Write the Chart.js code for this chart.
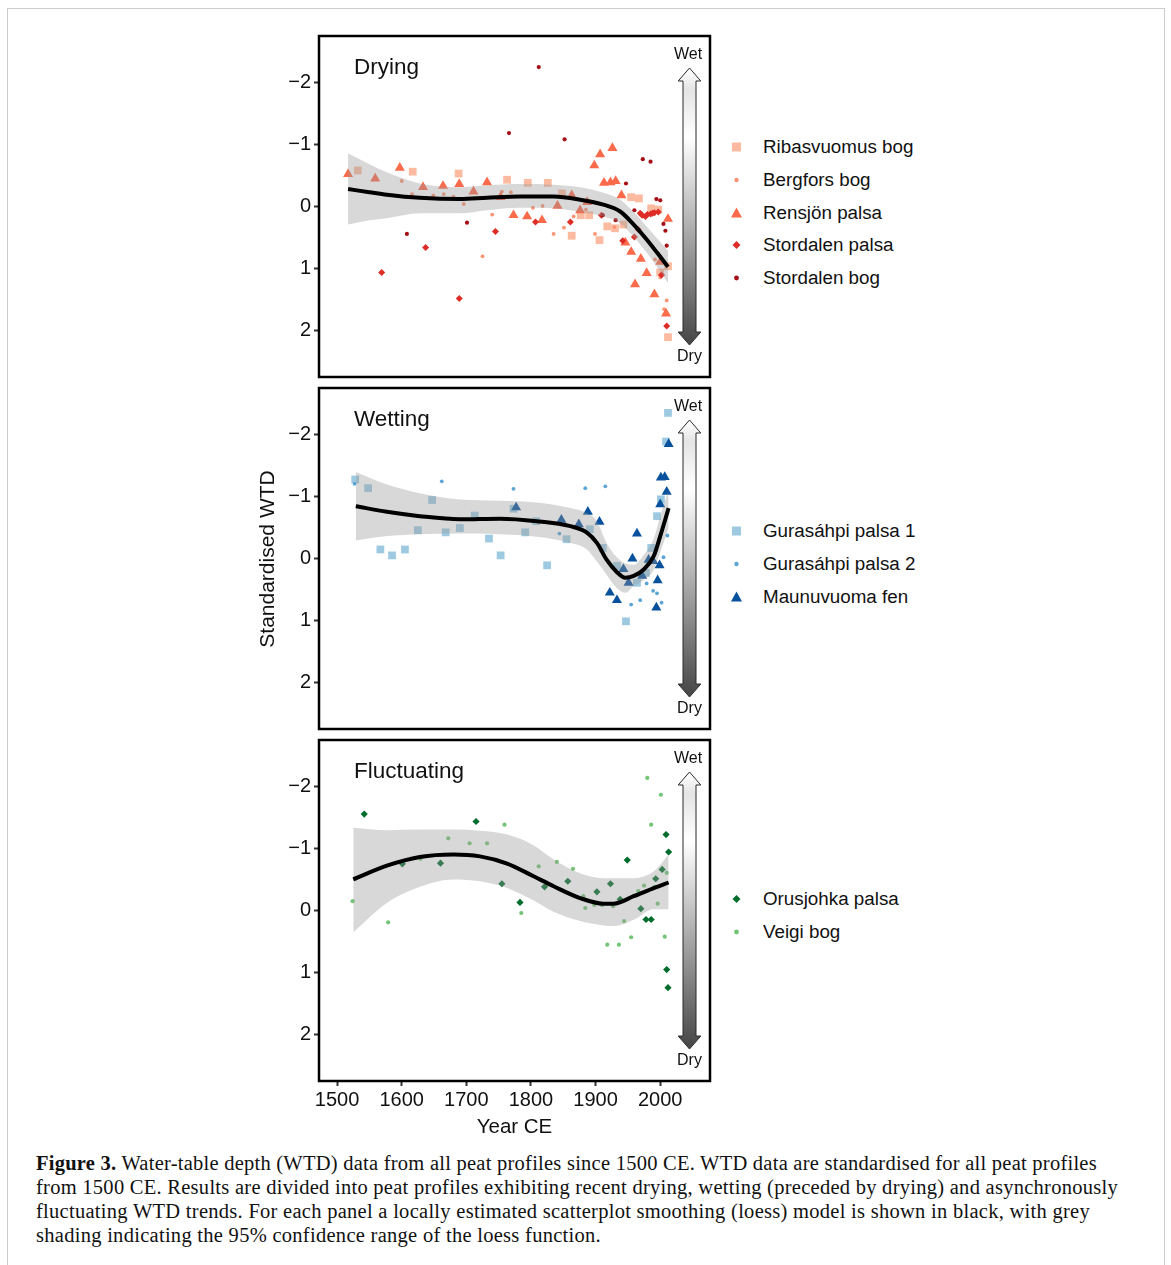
<!DOCTYPE html>
<html><head><meta charset="utf-8">
<script src="https://cdn.jsdelivr.net/npm/chart.js@4.4.0/dist/chart.umd.min.js"></script>
<style>
body{margin:0;background:#fff;width:1171px;height:1265px;position:relative;overflow:hidden;font-family:"Liberation Sans",Arial,sans-serif;}
.frame{position:absolute;left:7px;top:8px;width:1156px;height:1300px;border:1.5px solid #cccccc;}
canvas{position:absolute;}
.leg{position:absolute;font-size:18.8px;color:#111;height:22px;line-height:22px;white-space:nowrap;}
.leg svg{position:absolute;left:-36px;top:0;}
.ytitle{position:absolute;left:117px;top:546px;width:300px;height:26px;line-height:26px;text-align:center;font-size:21px;color:#111;transform:rotate(-90deg);}
.cap{position:absolute;left:36px;top:1151px;font-family:"Liberation Serif","Times New Roman",serif;font-size:20.5px;line-height:24px;color:#111;white-space:nowrap;}
.cap div{display:block;width:max-content;}
</style></head>
<body>
<div class="frame"></div>
<canvas id="c1" width="470" height="381" style="left:250px;top:16px"></canvas>
<canvas id="c2" width="470" height="381" style="left:250px;top:368px"></canvas>
<canvas id="c3" width="470" height="420" style="left:250px;top:720px"></canvas>
<div class="ytitle">Standardised WTD</div>
<div id="legends"></div>
<div class="cap" id="cap">
<div data-w="1061"><b>Figure 3.</b> Water-table depth (WTD) data from all peat profiles since 1500 CE. WTD data are standardised for all peat profiles</div>
<div data-w="1082">from 1500 CE. Results are divided into peat profiles exhibiting recent drying, wetting (preceded by drying) and asynchronously</div>
<div data-w="1054">fluctuating WTD trends. For each panel a locally estimated scatterplot smoothing (loess) model is shown in black, with grey</div>
<div data-w="565">shading indicating the 95% confidence range of the loess function.</div>
</div>
<script>
// ---------- tick labels ----------
const yearTicks = [1500,1600,1700,1800,1900,2000];
const wtdTicks = [-2,-1,0,1,2];

// ---------- Drying ----------
const ribasYear = [1532,1617,1688,1763,1795,1826,1848,1863,1877,1890,1906,1918,1930,1943,1955,1967,1986,1997,2000,2012,2012];
const ribasWTD  = [-0.58,-0.56,-0.53,-0.43,-0.38,-0.38,-0.21,0.47,0.14,0.14,0.54,0.32,0.35,0.29,-0.15,-0.13,0.03,0.05,1.06,0.96,2.1];
const bergYear = [1600,1616,1649,1665,1680,1696,1725,1740,1755,1769,1803,1818,1835,1851,1866,1885,1899,1929,1992,2000,2006,2010];
const bergWTD  = [-0.41,-0.2,-0.18,-0.2,-0.16,-0.04,0.8,0.13,-0.24,-0.23,0.02,-0.01,0.44,0.34,0.16,0.05,0.44,0.33,0.85,1.14,1.65,1.51];
const rensYear = [1517,1559,1597,1633,1664,1689,1711,1732,1753,1773,1794,1817,1841,1863,1876,1887,1898,1907,1913,1923,1926,1931,1940,1946,1955,1961,1970,1979,1991,2000,2009,2012];
const rensWTD  = [-0.52,-0.45,-0.62,-0.31,-0.33,-0.36,-0.24,-0.39,-0.15,0.14,0.16,0.22,-0.01,-0.18,0.06,-0.07,-0.66,-0.84,-0.38,-0.39,-0.94,-0.41,-0.18,0.58,0.73,1.25,0.84,1.07,1.41,0.89,1.72,0.2];
const sdpYear = [1569,1637,1689,1745,1807,1861,1909,1942,1960,1966,1969,1972,1977,1980,1985,1988,1991,1997,2002,2010];
const sdpWTD  = [1.06,0.66,1.48,0.40,0.25,0.25,0.14,0.55,0.49,0.37,0.11,0.14,0.16,0.13,0.12,0.11,0.10,0.09,1.10,1.92];
const sdbYear = [1608,1701,1766,1812,1852,1911,1931,1947,1960,1973,1985,1994,2000,2005,2008,2010];
const sdbWTD  = [0.44,0.26,-1.18,-2.24,-1.08,0.14,0.22,-0.37,0.06,-0.76,-0.72,-0.12,-0.10,0.28,0.39,0.63];
const dryLoessYear = [1517,1550,1577,1628,1690,1732,1783,1835,1876,1912,1938,1959,1979,1995,2012];
const dryLoess     = [-0.28,-0.23,-0.19,-0.14,-0.12,-0.14,-0.16,-0.16,-0.11,-0.03,0.08,0.29,0.53,0.74,0.97];
const dryUpper     = [-0.85,-0.68,-0.55,-0.37,-0.31,-0.34,-0.36,-0.35,-0.31,-0.22,-0.11,0.09,0.32,0.51,0.71];
const dryLower     = [0.29,0.22,0.19,0.11,0.11,0.06,0.02,0.03,0.09,0.16,0.27,0.49,0.74,0.97,1.23];

// ---------- Wetting ----------
const g1Year = [1528,1548,1567,1585,1605,1625,1647,1668,1690,1713,1735,1753,1773,1791,1808,1825,1855,1891,1911,1933,1947,1964,1978,1986,1995,2001,2009,2012];
const g1WTD  = [-1.27,-1.13,-0.145,-0.05,-0.145,-0.455,-0.94,-0.42,-0.49,-0.69,-0.32,-0.05,-0.80,-0.42,-0.60,0.11,-0.31,-0.47,-0.17,0.12,1.01,0.39,0.23,-0.17,-0.68,-0.95,-1.88,-2.34];
const g2Year = [1527,1662,1773,1844,1884,1915,1955,1969,1979,1989,1995,2002,2005,2011];
const g2WTD  = [-1.2,-1.24,-1.12,-0.40,-1.13,-1.16,0.74,0.67,0.40,0.52,0.56,0.71,-0.02,-0.37];
const mauYear = [1777,1847,1874,1888,1906,1922,1933,1943,1951,1957,1964,1972,1982,1989,1994,1996,1999,2000,2001,2007,2010,2013];
const mauWTD  = [-0.82,-0.62,-0.55,-0.75,-0.59,0.55,0.67,0.17,0.39,0.0,-0.40,0.28,0.02,0.04,0.79,0.35,0.11,-0.87,-1.30,-1.31,-1.07,-1.84];
const wetLoessYear = [1529,1577,1628,1690,1752,1809,1861,1886,1902,1917,1933,1946,1959,1974,1990,2000,2013];
const wetLoess     = [-0.84,-0.75,-0.68,-0.63,-0.64,-0.60,-0.52,-0.42,-0.25,0.02,0.22,0.31,0.28,0.18,-0.04,-0.36,-0.81];
const wetUpper     = [-1.39,-1.19,-1.05,-0.95,-0.93,-0.90,-0.81,-0.73,-0.60,-0.25,-0.02,0.08,0.10,-0.05,-0.32,-0.68,-1.11];
const wetLower     = [-0.29,-0.36,-0.39,-0.40,-0.39,-0.35,-0.25,-0.15,0.05,0.26,0.48,0.55,0.44,0.35,0.18,-0.10,-0.49];

// ---------- Fluctuating ----------
const oruYear = [1542,1601,1660,1715,1755,1783,1821,1857,1902,1923,1938,1949,1970,1978,1986,1993,2003,2009,2010,2012,2013];
const oruWTD  = [-1.55,-0.75,-0.76,-1.43,-0.43,-0.13,-0.38,-0.47,-0.30,-0.43,-0.18,-0.81,-0.03,0.145,0.145,-0.51,-0.66,-1.22,0.95,1.24,-0.94];
const veiYear = [1524,1579,1629,1672,1705,1732,1759,1785,1812,1840,1865,1881,1884,1898,1910,1918,1927,1936,1944,1955,1959,1966,1975,1980,1986,1991,1996,2001,2007,2010];
const veiWTD  = [-0.15,0.19,-0.83,-1.16,-1.08,-1.08,-1.38,0.04,-0.71,-0.78,-0.67,-0.23,-0.04,-0.09,-0.085,0.55,-0.07,0.55,0.17,0.43,-0.24,-0.31,-0.40,-2.13,-1.38,-0.38,-0.11,-1.86,0.42,-0.605];
const flucLoessYear = [1525,1577,1628,1680,1721,1763,1804,1835,1876,1912,1928,1959,1990,2013];
const flucLoess     = [-0.50,-0.72,-0.86,-0.90,-0.87,-0.755,-0.55,-0.39,-0.20,-0.11,-0.11,-0.23,-0.36,-0.45];
const flucUpper     = [-1.33,-1.29,-1.30,-1.30,-1.28,-1.22,-1.05,-0.82,-0.60,-0.52,-0.52,-0.52,-0.63,-0.90];
const flucLower     = [0.35,-0.12,-0.38,-0.50,-0.47,-0.36,-0.16,0.02,0.17,0.24,0.25,0.15,-0.02,-0.02];

const FONT = '"Liberation Sans", Arial, sans-serif';
const xy = (xs, ys) => xs.map((x, i) => ({x, y: ys[i]}));

const panels = [
  {id:'c1', title:'Drying', axis:false, legendTop:147,
   series:[
    {label:'Ribasvuomus bog', x:ribasYear, y:ribasWTD, color:'#fcbba1', shape:'rect', r:5.5},
    {label:'Bergfors bog', x:bergYear, y:bergWTD, color:'#fc9272', shape:'circle', r:1.9},
    {label:'Rensjön palsa', x:rensYear, y:rensWTD, color:'#fb6a4a', shape:'triangle', r:5.8},
    {label:'Stordalen palsa', x:sdpYear, y:sdpWTD, color:'#de2d26', shape:'rectRot', r:3.5},
    {label:'Stordalen bog', x:sdbYear, y:sdbWTD, color:'#a50f15', shape:'circle', r:2.1}],
   lx:dryLoessYear, ly:dryLoess, up:dryUpper, lo:dryLower},
  {id:'c2', title:'Wetting', axis:false, legendTop:531,
   series:[
    {label:'Gurasáhpi palsa 1', x:g1Year, y:g1WTD, color:'#9ecae1', shape:'rect', r:5.5},
    {label:'Gurasáhpi palsa 2', x:g2Year, y:g2WTD, color:'#5aa5d6', shape:'circle', r:1.9},
    {label:'Maunuvuoma fen', x:mauYear, y:mauWTD, color:'#08519c', shape:'triangle', r:5.8}],
   lx:wetLoessYear, ly:wetLoess, up:wetUpper, lo:wetLower},
  {id:'c3', title:'Fluctuating', axis:true, legendTop:899,
   series:[
    {label:'Orusjohka palsa', x:oruYear, y:oruWTD, color:'#006d2c', shape:'rectRot', r:3.6},
    {label:'Veigi bog', x:veiYear, y:veiWTD, color:'#74c476', shape:'circle', r:2.1}],
   lx:flucLoessYear, ly:flucLoess, up:flucUpper, lo:flucLower}
];

const panelPlugin = {
  id:'panel',
  afterDatasetsDraw(chart, args, opts){
    const {ctx, chartArea:a} = chart;
    ctx.save();
    // double-headed arrow
    const cx = a.right - 20.5;
    const t = a.top + 32, hb = a.top + 45, bb = a.top + 296, b = a.top + 309;
    const sw = 6.5, hw = 11.3;
    const g = ctx.createLinearGradient(0, t, 0, b);
    g.addColorStop(0, '#ffffff');
    g.addColorStop(0.08, '#e4e4e4');
    g.addColorStop(0.25, '#ffffff');
    g.addColorStop(1, '#454545');
    ctx.beginPath();
    ctx.moveTo(cx, t); ctx.lineTo(cx+hw, hb); ctx.lineTo(cx+sw, hb); ctx.lineTo(cx+sw, bb);
    ctx.lineTo(cx+hw, bb); ctx.lineTo(cx, b); ctx.lineTo(cx-hw, bb); ctx.lineTo(cx-sw, bb);
    ctx.lineTo(cx-sw, hb); ctx.lineTo(cx-hw, hb); ctx.closePath();
    ctx.fillStyle = g; ctx.fill();
    ctx.lineWidth = 1; ctx.strokeStyle = '#2a2a2a'; ctx.stroke();
    ctx.fillStyle = '#111';
    ctx.font = '16px ' + FONT;
    ctx.textAlign = 'center'; ctx.textBaseline = 'middle';
    ctx.fillText('Wet', cx - 1.5, a.top + 19);
    ctx.fillText('Dry', cx, a.top + 321);
    ctx.font = '22.5px ' + FONT;
    ctx.textAlign = 'left';
    ctx.fillText(opts.title, a.left + 35, a.top + 32);
    ctx.restore();
  },
  afterDraw(chart){
    const {ctx, chartArea:a} = chart;
    ctx.save();
    ctx.lineWidth = 2.5; ctx.strokeStyle = '#000';
    ctx.strokeRect(a.left, a.top, a.right - a.left, a.bottom - a.top);
    ctx.restore();
  }
};

panels.forEach(p => {
  const datasets = [];
  datasets.push({type:'line', data:xy(p.lx, p.ly), borderColor:'#000', borderWidth:4, pointRadius:0,
    cubicInterpolationMode:'monotone', fill:false, order:0});
  datasets.push({type:'line', data:xy(p.lx, p.up), borderWidth:0, borderColor:'rgba(0,0,0,0)', pointRadius:0,
    cubicInterpolationMode:'monotone', fill:'+1', backgroundColor:'rgba(153,153,153,0.38)', order:1});
  datasets.push({type:'line', data:xy(p.lx, p.lo), borderWidth:0, borderColor:'rgba(0,0,0,0)', pointRadius:0,
    cubicInterpolationMode:'monotone', fill:false, order:1});
  p.series.forEach((s, i) => {
    datasets.push({type:'scatter', label:s.label, data:xy(s.x, s.y), pointStyle:s.shape, pointRadius:s.r,
      pointBackgroundColor:s.color, pointBorderWidth:0, borderWidth:0, order:2 + (p.series.length - i)});
  });
  new Chart(document.getElementById(p.id), {
    type:'scatter',
    data:{datasets},
    plugins:[panelPlugin],
    options:{
      responsive:false, animation:false, devicePixelRatio:1, events:[],
      layout:{padding:{left:0, right:10, top:20, bottom:p.axis ? 0 : 20}},
      plugins:{legend:{display:false}, tooltip:{enabled:false}, panel:{title:p.title}},
      scales:{
        x:{type:'linear', min:1472, max:2077, display:p.axis,
          afterBuildTicks: s => { s.ticks = yearTicks.map(v => ({value:v})); },
          afterFit: s => { s.height = p.axis ? 59 : 0; },
          ticks:{font:{family:FONT, size:20}, color:'#111', padding:2, maxRotation:0, callback: v => String(v)},
          grid:{display:true, drawOnChartArea:false, drawTicks:true, tickLength:5, tickWidth:2, tickColor:'#333'},
          border:{display:false},
          title:{display:true, text:'Year CE', font:{family:FONT, size:20.5}, color:'#111', padding:{top:0, bottom:0}}
        },
        y:{type:'linear', min:-2.74, max:2.74, reverse:true,
          afterBuildTicks: s => { s.ticks = wtdTicks.map(v => ({value:v})); },
          afterFit: s => { s.width = 69; },
          ticks:{font:{family:FONT, size:20}, color:'#111', padding:3,
            callback: v => v < 0 ? '\u2212' + Math.abs(v) : String(v)},
          grid:{display:true, drawOnChartArea:false, drawTicks:true, tickLength:5, tickWidth:2, tickColor:'#333'},
          border:{display:false}
        }
      }
    }
  });

  // HTML legend
  const box = document.getElementById('legends');
  p.series.forEach((s, i) => {
    const cy = p.legendTop + i * 32.8;
    const d = document.createElement('div');
    d.className = 'leg';
    d.style.left = '763px';
    d.style.top = (cy - 11) + 'px';
    let shape = '';
    if (s.shape === 'rect') shape = `<rect x="5" y="6.5" width="9" height="9" fill="${s.color}"/>`;
    else if (s.shape === 'circle') shape = `<circle cx="9.5" cy="11" r="${s.r < 2 ? 2.2 : 2.4}" fill="${s.color}"/>`;
    else if (s.shape === 'triangle') shape = `<polygon points="9.5,5.5 15,15.5 4,15.5" fill="${s.color}"/>`;
    else shape = `<polygon points="9.5,7 13.5,11 9.5,15 5.5,11" fill="${s.color}"/>`;
    d.innerHTML = `<svg width="19" height="22">${shape}</svg>${s.label}`;
    box.appendChild(d);
  });
});

// fit caption lines to the reference widths
document.querySelectorAll('#cap div').forEach(el => {
  const target = +el.dataset.w;
  const w = el.getBoundingClientRect().width;
  const n = el.textContent.length;
  el.style.letterSpacing = ((target - w) / n).toFixed(3) + 'px';
});
</script>
</body></html>
